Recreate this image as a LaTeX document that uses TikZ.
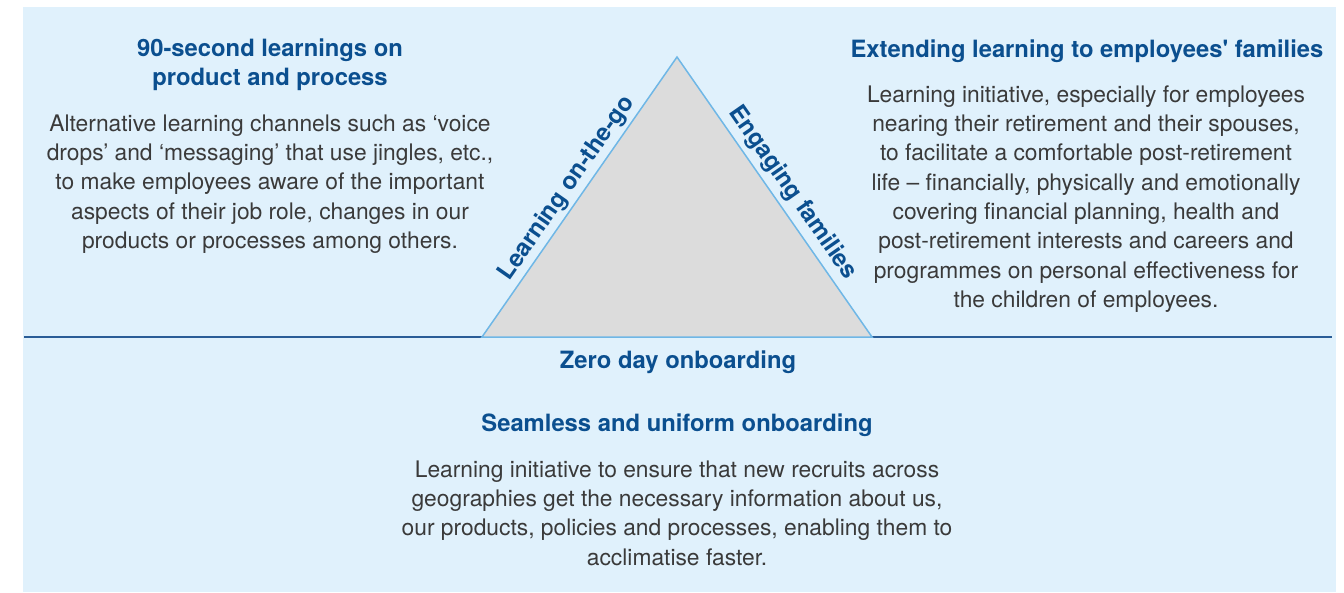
\documentclass[tikz,border=0pt]{standalone}
\usepackage{fontspec}
\setmainfont{TeX Gyre Heros}
\usepackage{tikz}
\usetikzlibrary{positioning}
\definecolor{panelbg}{HTML}{E0F1FC}
\definecolor{headblue}{HTML}{0B4F8F}
\definecolor{bodygray}{HTML}{3A3A3A}
\definecolor{trifill}{HTML}{DCDCDC}
\definecolor{triedge}{HTML}{6FB7E6}
\definecolor{rule}{HTML}{2A5D97}

\tikzset{
  head/.style={font=\fontsize{23.8}{29.3}\selectfont\bfseries, text=headblue, align=center, inner sep=0pt},
  body/.style={font=\fontsize{22.8}{29.3}\selectfont, text=bodygray, align=center, inner sep=0pt},
  sidelabel/.style={font=\fontsize{24}{26}\selectfont\bfseries, text=headblue, sloped, inner sep=3pt}
}

\begin{document}
\begin{tikzpicture}[x=1pt, y=-1pt]
  \useasboundingbox (0,0) rectangle (1344,592);
  \fill[panelbg] (23,7) rectangle (1336,592);

  % triangle
  \coordinate (bl) at (482,337);
  \coordinate (br) at (872,337);
  \coordinate (apex) at (677,57);
  \coordinate (ruleL) at (24,337);
  \coordinate (ruleR) at (1332,337);
  \draw[rule, line width=1.2pt] (ruleL) -- (bl);
  \draw[rule, line width=1.2pt] (br) -- (ruleR);
  \filldraw[fill=trifill, draw=triedge, line width=1.5pt, line join=miter]
    (bl) -- (apex) node[sidelabel, pos=0.5, above] {Learning on-the-go}
    -- (br) node[sidelabel, pos=0.52, above, inner sep=5pt] {Engaging families}
    -- cycle;

  % left block
  \node[head] (leftHead) at (270,65) {90-second learnings on\\product and process};
  \node[body] (leftBody) at (270,184) {Alternative learning channels such as ‘voice\\drops’ and ‘messaging’ that use jingles, etc.,\\to make employees aware of the important\\aspects of their job role, changes in our\\products or processes among others.};

  % right block
  \node[head] (rightHead) at (1087,51) {Extending learning to employees\textquotesingle\ families};
  \node[body] (rightBody) at (1086,199) {Learning initiative, especially for employees\\nearing their retirement and their spouses,\\to facilitate a comfortable post-retirement\\life -- financially, physically and emotionally\\covering financial planning, health and\\post-retirement interests and careers and\\programmes on personal effectiveness for\\the children of employees.};

  % bottom block
  \node[head] (baseHead) at (678,362) {Zero day onboarding};
  \node[head] (bottomHead) at (677,425) {Seamless and uniform onboarding};
  \node[body] (bottomBody) at (677,513) {Learning initiative to ensure that new recruits across\\geographies get the necessary information about us,\\our products, policies and processes, enabling them to\\acclimatise faster.};
\end{tikzpicture}
\end{document}
